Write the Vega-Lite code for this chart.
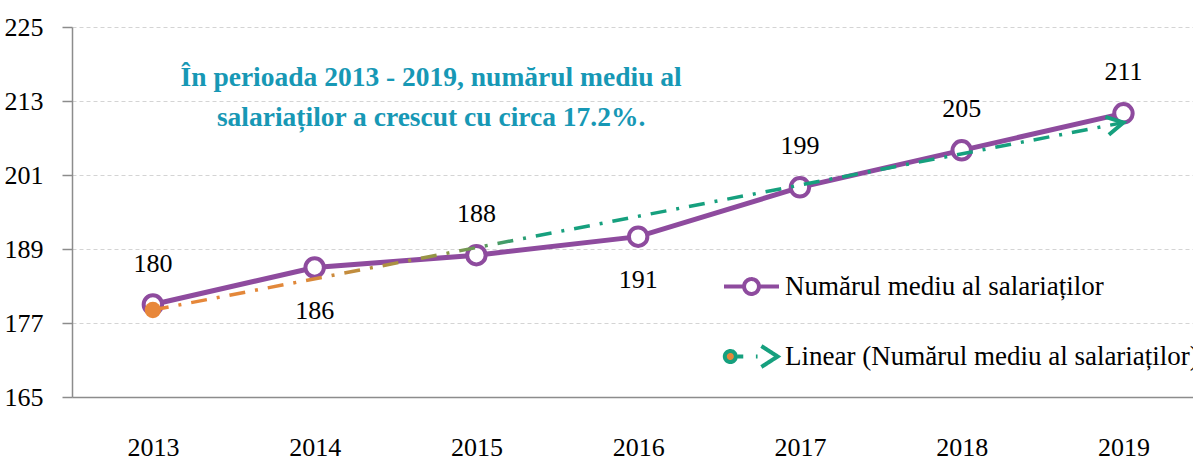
{
  "$schema": "https://vega.github.io/schema/vega-lite/v6.json",
  "autosize": {"type": "none"},
  "padding": {"left": 72, "top": 27, "right": 0, "bottom": 66},
  "width": 1121,
  "height": 370,
  "background": "white",
  "config": {
    "font": "Liberation Sans Narrow",
    "view": {"stroke": null}
  },
  "datasets": {
    "main": [
      {"year": 2013, "value": 180, "series": "Numărul mediu al salariaților"},
      {"year": 2014, "value": 186, "series": "Numărul mediu al salariaților"},
      {"year": 2015, "value": 188, "series": "Numărul mediu al salariaților"},
      {"year": 2016, "value": 191, "series": "Numărul mediu al salariaților"},
      {"year": 2017, "value": 199, "series": "Numărul mediu al salariaților"},
      {"year": 2018, "value": 205, "series": "Numărul mediu al salariaților"},
      {"year": 2019, "value": 211, "series": "Numărul mediu al salariaților"}
    ],
    "trend": [
      {"year": 2013, "value": 179.1},
      {"year": 2019, "value": 209.5}
    ]
  },
  "data": {"name": "main"},
  "layer": [
    {
      "mark": {"type": "line", "strokeWidth": 5},
      "encoding": {
        "x": {
          "field": "year", "type": "quantitative",
          "scale": {"domain": [2012.5, 2019.43], "nice": false, "zero": false},
          "axis": {
            "title": null, "values": [2013, 2014, 2015, 2016, 2017, 2018, 2019], "format": "d",
            "grid": false, "ticks": false, "tickSize": 0, "labelPadding": 37,
            "labelFontSize": 26, "labelColor": "#000", "labelFont": "Liberation Sans Narrow",
            "domainColor": "#8c8c8c", "domainWidth": 1.5, "labelFlush": false
          }
        },
        "y": {
          "field": "value", "type": "quantitative",
          "scale": {"domain": [165, 225], "nice": false, "zero": false},
          "axis": {
            "title": null, "values": [165, 177, 189, 201, 213, 225],
            "grid": true, "gridColor": "#d4d4d4", "gridDash": [4, 3], "gridWidth": 1,
            "tickSize": 10, "tickColor": "#8c8c8c", "tickWidth": 1.5,
            "domainColor": "#8c8c8c", "domainWidth": 1.5, "labelPadding": 19,
            "labelFontSize": 26, "labelColor": "#000", "labelFont": "Liberation Sans Narrow"
          }
        },
        "color": {
          "field": "series", "type": "nominal",
          "scale": {
            "domain": ["Numărul mediu al salariaților", "Linear (Numărul mediu al salariaților)"],
            "range": ["#8E4B9E", "#16A07E"]
          },
          "legend": {
            "title": null, "orient": "none", "legendX": 650, "legendY": 230,
            "direction": "vertical", "labelFontSize": 27, "labelColor": "#000",
            "labelFont": "Liberation Sans Narrow", "labelLimit": 800, "labelOffset": 4,
            "rowPadding": 25, "symbolSize": 3025, "symbolStrokeWidth": 4,
            "encode": {
              "symbols": {
                "update": {
                  "shape": {"signal": "datum.value === 'Numărul mediu al salariaților' ? 'M-1,0H-0.27M0.27,0H1M0.27,0A0.27,0.27 0 1,1 -0.27,0A0.27,0.27 0 1,1 0.27,0Z' : 'M-0.57,0A0.2,0.2 0 1,1 -0.97,0A0.2,0.2 0 1,1 -0.57,0ZM-0.5,0H-0.3ZM0.16,0H0.22ZM0.36,-0.38L0.95,0L0.36,0.38L0.95,0Z'"},
                  "fill": {"signal": "datum.value === 'Numărul mediu al salariaților' ? '#ffffff' : '#E8873A'"},
                  "stroke": [
                    {"test": "datum.value === 'Numărul mediu al salariaților'", "value": "#8E4B9E"},
                    {"value": {"gradient": "linear", "x1": 0, "y1": 0, "x2": 1, "y2": 0, "stops": [{"offset": 0, "color": "#E8873A"}, {"offset": 0.3, "color": "#E8873A"}, {"offset": 0.45, "color": "#8E9646"}, {"offset": 0.6, "color": "#16A07E"}, {"offset": 1, "color": "#16A07E"}]}}
                  ],
                  "strokeWidth": {"value": 4},
                  "strokeDash": {"value": [1, 0]},
                  "opacity": {"value": 1}
                }
              }
            }
          }
        }
      }
    },
    {
      "mark": {"type": "point", "filled": true, "fill": "#ffffff", "stroke": "#8E4B9E", "strokeWidth": 4, "size": 340, "opacity": 1},
      "encoding": {
        "x": {"field": "year", "type": "quantitative"},
        "y": {"field": "value", "type": "quantitative"}
      }
    },
    {
      "data": {"name": "trend"},
      "mark": {
        "type": "line", "strokeWidth": 3.5, "strokeDash": [16, 10, 3, 10],
        "color": {
          "gradient": "linear", "x1": 0, "y1": 0, "x2": 1, "y2": 0,
          "stops": [
            {"offset": 0, "color": "#E8873A"},
            {"offset": 0.15, "color": "#E0883A"},
            {"offset": 0.3, "color": "#8E9646"},
            {"offset": 0.4, "color": "#16A07E"},
            {"offset": 1, "color": "#16A07E"}
          ]
        }
      },
      "encoding": {
        "x": {"field": "year", "type": "quantitative"},
        "y": {"field": "value", "type": "quantitative"}
      }
    },
    {
      "data": {"name": "trend"},
      "transform": [{"filter": "datum.year === 2019"}],
      "mark": {
        "type": "point", "shape": "M-1,-0.55L0,0L-1,0.55L0,0Z", "filled": false,
        "stroke": "#16A07E", "strokeWidth": 4, "size": 1100, "angle": -11, "opacity": 1,
        "strokeJoin": "miter"
      },
      "encoding": {
        "x": {"field": "year", "type": "quantitative"},
        "y": {"field": "value", "type": "quantitative"}
      }
    },
    {
      "data": {"name": "trend"},
      "transform": [{"filter": "datum.year === 2013"}],
      "mark": {"type": "point", "shape": "circle", "filled": true, "color": "#E8873A", "size": 270, "opacity": 1},
      "encoding": {
        "x": {"field": "year", "type": "quantitative"},
        "y": {"field": "value", "type": "quantitative"}
      }
    },
    {
      "transform": [{"filter": {"field": "year", "oneOf": [2013, 2015, 2017, 2018, 2019]}}],
      "mark": {"type": "text", "dy": -41, "fontSize": 26, "color": "#000", "font": "Liberation Sans Narrow", "baseline": "middle"},
      "encoding": {
        "x": {"field": "year", "type": "quantitative"},
        "y": {"field": "value", "type": "quantitative"},
        "text": {"field": "value", "type": "quantitative", "format": "d"}
      }
    },
    {
      "transform": [{"filter": {"field": "year", "oneOf": [2014, 2016]}}],
      "mark": {"type": "text", "dy": 43, "fontSize": 26, "color": "#000", "font": "Liberation Sans Narrow", "baseline": "middle"},
      "encoding": {
        "x": {"field": "year", "type": "quantitative"},
        "y": {"field": "value", "type": "quantitative"},
        "text": {"field": "value", "type": "quantitative", "format": "d"}
      }
    },
    {
      "data": {"values": [{}]},
      "mark": {
        "type": "text",
        "text": ["În perioada 2013 - 2019, numărul mediu al", "salariaților a crescut cu circa 17.2%."],
        "fontSize": 27.5, "fontWeight": "bold", "color": "#1798B5", "font": "Liberation Sans Narrow",
        "align": "center", "baseline": "middle", "lineHeight": 40
      },
      "encoding": {
        "x": {"datum": 2014.72, "type": "quantitative"},
        "y": {"datum": 216.7, "type": "quantitative"}
      }
    }
  ]
}
